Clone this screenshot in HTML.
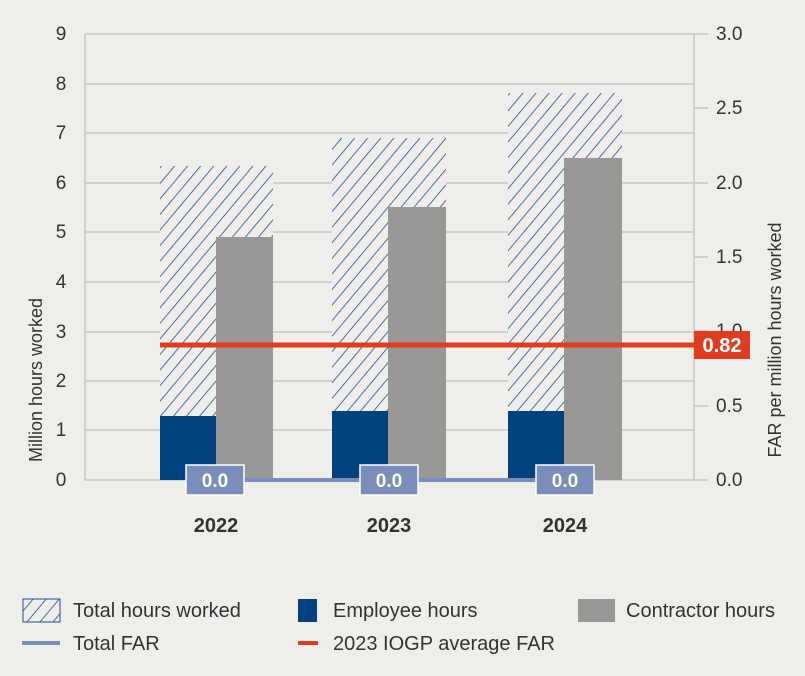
<!DOCTYPE html>
<html><head><meta charset="utf-8"><style>
body{margin:0;background:#f0eeeb;}
svg{display:block;font-family:"Liberation Sans",sans-serif;}
</style></head><body>
<svg width="805" height="676" viewBox="0 0 805 676">
<defs>
<pattern id="h" patternUnits="userSpaceOnUse" width="10" height="10" patternTransform="rotate(40)">
<rect width="10" height="10" fill="#f0eeeb"/>
<line x1="0" y1="0" x2="0" y2="10" stroke="#1f4f8f" stroke-width="1.6"/>
</pattern>
</defs>
<rect width="805" height="676" fill="#f0eeeb"/>
<g stroke="#c9c7c4" stroke-width="1.5">
<line x1="85" y1="34" x2="694" y2="34"/>
<line x1="85" y1="84" x2="694" y2="84"/>
<line x1="85" y1="133" x2="694" y2="133"/>
<line x1="85" y1="183" x2="694" y2="183"/>
<line x1="85" y1="232" x2="694" y2="232"/>
<line x1="85" y1="282" x2="694" y2="282"/>
<line x1="85" y1="332" x2="694" y2="332"/>
<line x1="85" y1="381" x2="694" y2="381"/>
<line x1="85" y1="430" x2="694" y2="430"/>
<line x1="85" y1="480" x2="708" y2="480"/>
<line x1="85" y1="34" x2="85" y2="480"/>
<line x1="694" y1="34" x2="694" y2="480"/>
<line x1="694" y1="34" x2="708" y2="34"/><line x1="694" y1="108" x2="708" y2="108"/><line x1="694" y1="183" x2="708" y2="183"/><line x1="694" y1="257" x2="708" y2="257"/><line x1="694" y1="331" x2="708" y2="331"/><line x1="694" y1="406" x2="708" y2="406"/>
</g>
<g font-size="19" fill="#333" text-anchor="middle">
<text x="61" y="40">9</text><text x="61" y="90">8</text><text x="61" y="139">7</text><text x="61" y="189">6</text><text x="61" y="238">5</text><text x="61" y="288">4</text><text x="61" y="338">3</text><text x="61" y="387">2</text><text x="61" y="436">1</text><text x="61" y="486">0</text>
</g>
<g font-size="19" fill="#333">
<text x="716" y="40">3.0</text><text x="716" y="114">2.5</text><text x="716" y="189">2.0</text><text x="716" y="263">1.5</text><text x="716" y="337">1.0</text><text x="716" y="412">0.5</text><text x="716" y="486">0.0</text>
</g>
<text transform="translate(42,380) rotate(-90)" font-size="18" fill="#333" text-anchor="middle">Million hours worked</text>
<text transform="translate(781,340) rotate(-90)" font-size="18" fill="#333" text-anchor="middle">FAR per million hours worked</text>
<rect x="160" y="166" width="113" height="314" fill="url(#h)"/>
<rect x="160" y="416" width="56" height="64" fill="#00427d"/>
<rect x="216" y="237" width="57" height="243" fill="#9a9896"/>
<rect x="332" y="138" width="114" height="342" fill="url(#h)"/>
<rect x="332" y="411" width="56" height="69" fill="#00427d"/>
<rect x="388" y="207" width="58" height="273" fill="#9a9896"/>
<rect x="508" y="93" width="114" height="387" fill="url(#h)"/>
<rect x="508" y="411" width="56" height="69" fill="#00427d"/>
<rect x="564" y="158" width="58" height="322" fill="#9a9896"/>
<line x1="160" y1="345" x2="694" y2="345" stroke="#e03c1f" stroke-width="5"/>
<rect x="694" y="331" width="56" height="28" fill="#e03c1f"/>
<text x="722" y="352" font-size="20" font-weight="bold" fill="#fff" text-anchor="middle">0.82</text>
<line x1="215" y1="480" x2="565" y2="480" stroke="#7b8dba" stroke-width="4"/>
<g>
<rect x="186" y="465" width="58" height="30" fill="#7b8dba" stroke="#fff" stroke-width="1.5"/>
<rect x="360" y="465" width="58" height="30" fill="#7b8dba" stroke="#fff" stroke-width="1.5"/>
<rect x="536" y="465" width="58" height="30" fill="#7b8dba" stroke="#fff" stroke-width="1.5"/>
</g>
<g font-size="19" font-weight="bold" fill="#fff" text-anchor="middle">
<text x="215" y="487">0.0</text><text x="389" y="487">0.0</text><text x="565" y="487">0.0</text>
</g>
<g font-size="20" font-weight="bold" fill="#333" text-anchor="middle">
<text x="216" y="532">2022</text><text x="389" y="532">2023</text><text x="565" y="532">2024</text>
</g>
<rect x="23" y="599" width="37" height="23" fill="url(#h)" stroke="#1f4f8f" stroke-width="1"/>
<text x="73" y="617" font-size="20" fill="#333">Total hours worked</text>
<rect x="298" y="599" width="19" height="23" fill="#00427d"/>
<text x="333" y="617" font-size="20" fill="#333">Employee hours</text>
<rect x="578" y="599" width="37" height="23" fill="#9a9896"/>
<text x="626" y="617" font-size="20" fill="#333">Contractor hours</text>
<line x1="22" y1="643" x2="60" y2="643" stroke="#7b8dba" stroke-width="4"/>
<text x="73" y="650" font-size="20" fill="#333">Total FAR</text>
<line x1="298" y1="643" x2="318" y2="643" stroke="#e03c1f" stroke-width="4"/>
<text x="333" y="650" font-size="20" fill="#333">2023 IOGP average FAR</text>
</svg>
</body></html>
